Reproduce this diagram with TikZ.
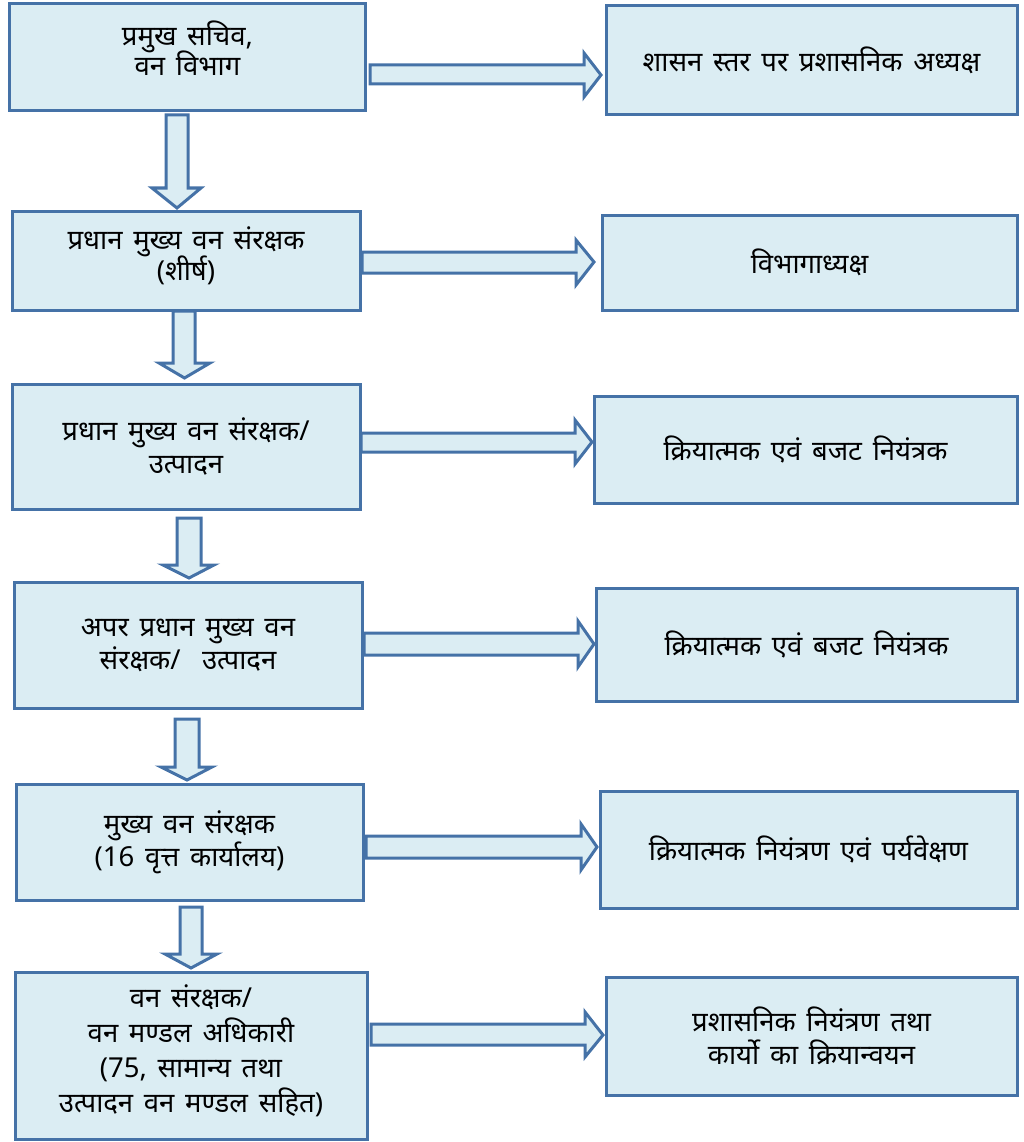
\documentclass[tikz,border=0pt]{standalone}
\usepackage{fontspec}
\setmainfont[Script=Devanagari, WordSpace=1.5]{Noto Sans}
\newcommand\tightlines{\lineskiplimit-60pt\relax}
\definecolor{boxfill}{HTML}{DBEDF3}
\definecolor{boxline}{HTML}{4572A7}
\tikzset{
  box/.style={draw=boxline, fill=boxfill, line width=3pt, inner sep=0pt, rectangle},
  txt/.style={align=center, inner sep=0pt, font={\fontsize{27.5}{33}\selectfont\tightlines}},
  blockarrow/.style={draw=boxline, fill=boxfill, line width=3pt, line join=miter}
}
\newcommand\mkbox[6]{% name, x0, y0, x1, y1, text
  \node[box, minimum width={(#4-#2)*1pt}, minimum height={(#5-#3)*1pt}] (#1) at ({(#2+#4)/2},{(#3+#5)/2}) {};
  \node[txt] (#1t) at (#1.center) {#6};
}
\newcommand\rblock[8]{% x0 x1 ys1 ys2 yh1 yh2 xtip ytip
  \draw[blockarrow] (#1,#3) -- (#2,#3) -- (#2,#5) -- (#7,#8) -- (#2,#6) -- (#2,#4) -- (#1,#4) -- cycle;
}
\newcommand\dblock[8]{% xs1 xs2 y0 yh xh1 xh2 xtip ytip
  \draw[blockarrow] (#1,#3) -- (#2,#3) -- (#2,#4) -- (#6,#4) -- (#7,#8) -- (#5,#4) -- (#1,#4) -- cycle;
}
\begin{document}
\begin{tikzpicture}[x=1pt, y=-1pt]
\useasboundingbox (0,0) rectangle (1024,1142);
% left column
\node[box, minimum width=356pt, minimum height=107pt] (L1) at (187.5,57.5) {};
\node[txt, font={\fontsize{27.5}{30.5}\selectfont\tightlines}] (L1t) at (187.5,48) {प्रमुख सचिव,\\वन विभाग};
\node[box, minimum width=348pt, minimum height=99pt] (L2) at (186,260.5) {};
\node[txt, font={\fontsize{27.5}{31}\selectfont\tightlines}] (L2t) at (186,256) {प्रधान मुख्य वन संरक्षक\\(शीर्ष)};
\mkbox{L3}{12}{384}{360}{509}{प्रधान मुख्य वन संरक्षक/\\उत्पादन}
\mkbox{L4}{14}{582}{362}{708}{अपर प्रधान मुख्य वन\\संरक्षक/ \ उत्पादन}
\mkbox{L5}{16}{784}{363}{900}{मुख्य वन संरक्षक\\(16 वृत्त कार्यालय)}
\node[box, minimum width=352pt, minimum height=167pt] (L6) at (191,1055.5) {};
\node[txt, font={\fontsize{27.5}{35}\selectfont\tightlines}] (L6t) at (191,1051) {वन संरक्षक/\\वन मण्डल अधिकारी\\(75, सामान्य तथा\\उत्पादन वन मण्डल सहित)};
% right column
\mkbox{R1}{606}{6}{1017}{115}{शासन स्तर पर प्रशासनिक अध्यक्ष}
\mkbox{R2}{602}{215}{1017}{310}{विभागाध्यक्ष}
\mkbox{R3}{594}{396}{1017}{503}{क्रियात्मक एवं बजट नियंत्रक}
\mkbox{R4}{596}{588}{1017}{701}{क्रियात्मक एवं बजट नियंत्रक}
\mkbox{R5}{600}{791}{1017}{908}{क्रियात्मक नियंत्रण एवं पर्यवेक्षण}
\mkbox{R6}{606}{977}{1017}{1095}{प्रशासनिक नियंत्रण तथा\\कार्यो का क्रियान्वयन}
% right block arrows
\rblock{370}{584}{65}{84}{53}{97}{601}{75}
\rblock{362}{576}{252}{273}{240}{285}{594}{262}
\rblock{361}{575}{433}{452}{420}{464}{592}{442}
\rblock{364}{578}{633}{655}{621}{667}{594}{644}
\rblock{366}{581}{836}{858}{824}{870}{597}{847}
\rblock{371}{585}{1024}{1045}{1012}{1057}{603}{1035}
% down block arrows
\dblock{166}{188}{115}{188}{152}{201}{177}{208}
\dblock{173}{195}{311}{363}{159}{210}{184.5}{378}
\dblock{177}{201}{518}{565}{163}{214}{189}{578}
\dblock{175}{199}{719}{767}{161}{212}{187}{780}
\dblock{180}{202}{907}{954}{165}{217}{191}{968}
\end{tikzpicture}
\end{document}
